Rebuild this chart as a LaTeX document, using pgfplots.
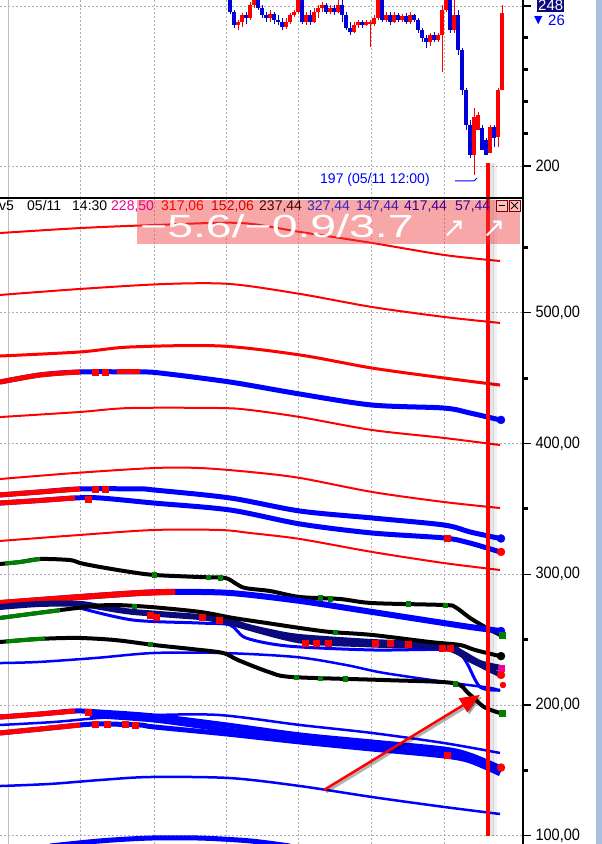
\documentclass[border=0pt]{standalone}
\usepackage{fontspec}
\setmainfont{Liberation Sans}
\newfontfamily\dejavu{DejaVu Sans}
\usepackage{pgfplots}
\usepackage{pgfplotstable}
\pgfplotsset{compat=1.18}
\usetikzlibrary{arrows.meta}
\definecolor{navy}{RGB}{10,10,125}
\definecolor{dgreen}{RGB}{0,128,0}
\definecolor{gridg}{RGB}{175,175,175}
\definecolor{pinkbase}{RGB}{238,60,60}
\definecolor{rightband}{RGB}{170,190,222}
\definecolor{hblue}{RGB}{50,40,200}
\definecolor{hpurple}{RGB}{64,0,144}
\newcommand{\hdr}{\fontsize{14}{14}\selectfont}
\newcommand{\tl}[1]{\scalebox{0.88}[1]{#1}}

% candles: x, wick low, body low, body high, wick high (price units)
\pgfplotstableread{
x wl bl bh wh
238 242.5 244.1 245.0 245.6
242 243.4 245.0 247.2 247.8
250 245.6 246.3 250.3 251.3
254 249.4 250.3 254.4 256.6
270 245.0 246.3 247.5 248.8
286 242.8 243.4 245.0 246.3
290 244.4 245.0 247.2 247.8
294 246.6 247.2 248.1 248.8
298 247.5 248.1 253.4 255.0
306 244.1 245.0 247.2 248.1
314 244.7 245.0 248.1 249.4
318 246.3 248.1 249.4 250.3
322 248.1 249.4 250.3 251.3
330 247.5 248.1 249.4 250.3
338 247.8 248.1 250.3 251.9
354 241.6 241.9 244.1 245.0
358 243.1 244.1 245.0 245.6
366 243.8 244.1 245.0 245.6
370 237.2 244.4 245.0 245.6
374 243.8 244.4 246.3 247.2
378 245.6 246.3 251.9 253.4
386 245.0 245.6 247.2 248.1
394 244.7 245.0 247.2 248.1
402 245.0 245.6 246.9 247.5
410 244.4 245.0 247.2 248.1
430 237.5 238.8 240.9 241.6
438 238.8 239.4 240.9 241.6
442 229.4 240.9 248.8 250.3
446 248.1 248.8 251.9 255.0
454 241.6 242.5 247.2 251.9
474 197.2 203.4 215.3 218.1
478 211.3 211.3 215.9 216.9
490 204.1 204.1 212.2 212.8
498 205.9 209.1 223.8 224.4
502 223.8 223.8 247.8 250.3
}\redc
\pgfplotstableread{
x wl bl bh wh
230 247.5 248.1 255.0 256.6
234 243.1 244.1 248.1 248.8
246 244.4 246.3 247.2 248.1
258 248.8 249.4 254.4 255.6
262 246.3 247.2 249.4 250.3
266 245.0 246.3 247.2 248.1
274 244.4 245.6 247.5 248.1
278 244.1 245.0 245.6 247.2
282 242.5 243.4 245.0 246.3
302 244.4 245.0 253.4 255.0
310 244.1 245.0 247.2 248.8
326 247.5 248.1 250.3 250.9
334 247.2 248.1 249.4 250.3
342 245.0 247.2 250.3 251.9
346 242.5 243.1 247.2 248.1
350 240.9 241.9 243.1 245.0
362 243.1 244.1 245.0 245.6
382 245.0 245.6 251.9 252.8
390 244.1 245.0 247.2 248.1
398 245.0 245.6 247.2 247.8
406 244.4 245.0 246.9 247.8
414 245.0 245.6 247.2 247.5
418 241.6 242.5 245.6 246.3
422 238.8 240.0 242.5 243.1
426 236.9 238.8 240.0 240.9
434 238.8 239.4 240.9 241.9
450 241.6 242.5 251.9 255.0
458 234.7 236.3 247.2 248.8
462 222.2 223.8 236.3 236.9
466 211.3 212.8 223.8 224.4
470 202.5 203.4 212.8 214.4
482 205.0 205.0 211.9 212.8
486 203.4 203.4 208.1 208.8
494 205.9 208.8 212.2 212.8
}\bluec

\begin{document}
\begin{tikzpicture}
\useasboundingbox (0,0) rectangle (602pt,844pt);
\pgfplotsset{
  common/.style={
    scale only axis, width=523pt, xmin=0, xmax=523,
    axis line style={draw=none},
    xtick={80.6,154.7,226.5,298.7,371.6,444.2}, xticklabels={},
    xtick style={draw=none}, xmajorgrids, ymajorgrids,
    extra x ticks={8.4}, extra x tick labels={},
    extra x tick style={grid style={solid, gridg!80, line width=1pt}},
    grid style={gridg, dash pattern=on 2pt off 2pt, line width=0.9pt},
    ytick pos=right, yticklabel pos=right, tick align=outside,
    major tick length=8pt,
    ytick style={black, line width=1pt},
    yticklabel style={font=\fontsize{16.5}{16.5}\selectfont, black, xshift=1pt},
  },
  thin/.style={line width=2pt, smooth},
  mid/.style={line width=3pt, smooth},
  thick/.style={line width=5pt, smooth},
}
% ---------------- top (price) panel ----------------
\begin{axis}[common, at={(0pt,646pt)}, anchor=south west, height=198pt,
  ymin=190.0, ymax=251.875,
  ytick={200,250}, yticklabels={\tl{200},{}}]
\addplot[forget plot, draw=none, mark=none, error bars/.cd, y dir=plus, y explicit, error mark=none,
  error bar style={draw=red, line width=1pt}] table[x=x, y=wl, y error expr=\thisrow{wh}-\thisrow{wl}] {\redc};
\addplot[forget plot, draw=none, mark=none, error bars/.cd, y dir=plus, y explicit, error mark=none,
  error bar style={draw=blue!85!black, line width=1pt}] table[x=x, y=wl, y error expr=\thisrow{wh}-\thisrow{wl}] {\bluec};
\addplot[forget plot, draw=none, mark=none, error bars/.cd, y dir=plus, y explicit, error mark=none,
  error bar style={draw=red, line width=3.4pt}] table[x=x, y=bl, y error expr=\thisrow{bh}-\thisrow{bl}] {\redc};
\addplot[forget plot, draw=none, mark=none, error bars/.cd, y dir=plus, y explicit, error mark=none,
  error bar style={draw=blue!85!black, line width=3.4pt}] table[x=x, y=bl, y error expr=\thisrow{bh}-\thisrow{bl}] {\bluec};
% cursor line
\addplot[black, opacity=0.10, line width=4pt] coordinates {(492,200.9) (492,190)};
\addplot[black, opacity=0.06, line width=4pt] coordinates {(495,200.9) (495,190)};
\addplot[red, line width=3.5pt] coordinates {(488,200.9) (488,190)};
\end{axis}

% ---------------- lower (envelope) panel ----------------
\begin{axis}[common, at={(0pt,0pt)}, anchor=south west, height=646pt,
  ymin=93.65, ymax=587.9,
  ytick={100,200,300,400,500},
  yticklabels={\tl{100,00},\tl{200,00},\tl{300,00},\tl{400,00},\tl{500,00}}]
% thin red envelopes
\addplot[red, thin] coordinates {(0,561.1)(80,564.9)(154,567.2)(240,568.8)(300,561.9)(372,553.5)(444,544.3)(500,539.7)};
\addplot[red, thin] coordinates {(0,513.7)(80,518.3)(165,522.1)(230,522.1)(300,514.5)(372,504.5)(444,496.9)(500,492.3)};
\addplot[red, mid] coordinates {(0,467.0)(80,470.1)(130,473.9)(220,474.7)(300,467.8)(372,457.8)(444,450.2)(500,444.8)};
\addplot[red, thin] coordinates {(0,420.3)(80,424.2)(130,427.2)(220,427.2)(250,425.7)(300,420.3)(372,410.4)(444,404.3)(500,398.9)};
\addplot[red, thin] coordinates {(0,372.9)(75,377.5)(154,381.3)(200,381.3)(250,378.3)(300,373.7)(372,363.0)(444,355.3)(500,350.7)};
\addplot[red, thin] coordinates {(0,325.5)(80,330.1)(154,333.9)(220,333.9)(250,331.6)(300,327.0)(372,317.1)(444,308.6)(500,303.3)};
% thin blue lines
\addplot[blue, line width=2.5pt, smooth] coordinates {(0,232.1)(38,232.9)(96,236.0)(154,239.8)(223,239.8)(296,236.7)(346,230.6)(384,224.5)(453,216.8)(491,213.0)(500,210.7)};
\addplot[blue, line width=2.5pt, smooth] coordinates {(0,184.7)(54,187.0)(100,190.1)(154,192.3)(220,192.3)(300,184.7)(372,178.6)(444,170.9)(500,163.3)};
\addplot[blue, line width=2.5pt, smooth] coordinates {(0,138.0)(50,139.6)(100,142.6)(150,144.9)(230,144.1)(300,138.0)(372,129.6)(444,122.0)(500,116.6)};
% thick blue (red start)
\addplot[blue, thick] coordinates {(0,447.1)(40,452.5)(80,454.8)(140,454.8)(160,454.0)(230,447.1)(300,437.9)(372,429.5)(444,427.2)(470,423.4)(500,418.1)};
\addplot[red, thick] coordinates {(0,447.1)(40,452.5)(80,454.8)};
\addplot[red, thick] coordinates {(117,454.8)(140,454.8)};
\addplot[blue, thick] coordinates {(0,360.7)(40,363.0)(80,365.3)(140,365.3)(154,364.5)(230,358.4)(300,348.4)(372,343.1)(444,337.7)(470,332.4)(500,327.4)};
\addplot[red, thick] coordinates {(0,360.7)(40,363.0)(80,365.3)};
\addplot[blue, thick] coordinates {(0,354.5)(40,356.5)(75,358.4)(100,358.4)(154,354.5)(230,349.2)(300,338.5)(372,331.6)(444,327.8)(470,323.9)(500,317.1)};
\addplot[red, thick] coordinates {(0,354.5)(40,356.5)(75,358.4)};
% black K1
\addplot[black, line width=4pt, smooth] coordinates {(0,307.9)(20,309.4)(40,311.7)(70,310.9)(80,308.6)(100,305.6)(130,301.8)(154,299.5)(200,297.9)(225,297.2)(235,293.3)(245,289.5)(270,287.2)(300,282.6)(340,281.1)(372,278.0)(444,276.5)(455,275.0)(470,266.6)(485,259.7)(500,253.6)};
\addplot[dgreen, line width=4pt, smooth] coordinates {(5,308.3)(20,309.4)(40,311.7)};
% B4
\addplot[blue, line width=6pt, smooth] coordinates {(0,278.0)(40,280.3)(80,282.6)(140,285.7)(175,286.5)(230,285.7)(300,279.6)(372,271.2)(444,262.7)(470,259.7)(500,256.6)};
\addplot[red, line width=6pt, smooth] coordinates {(0,278.0)(40,280.3)(80,282.6)(140,285.7)(175,286.5)};
% cluster
\addplot[blue, line width=3pt, smooth] coordinates {(80,274.2)(133,265.0)(200,262.7)(230,261.2)(246,251.3)(288,245.1)(372,242.1)(450,242.1)(465,234.4)(480,213.8)(500,211.5)};
\addplot[navy, line width=5pt, smooth] coordinates {(200,267.3)(230,262.7)(300,249.0)(372,245.9)(444,243.6)(470,234.4)(490,226.8)(500,223.0)};
\addplot[navy, line width=6pt, smooth] coordinates {(0,275.0)(40,277.3)(80,277.3)(100,275.0)(133,271.2)(200,267.3)(227,265.0)(245,260.4)(270,255.9)(300,252.0)(372,248.2)(444,245.9)(460,240.6)(480,232.1)(500,228.5)};
\addplot[black, line width=4pt, smooth] coordinates {(0,266.6)(38,270.4)(77,274.2)(110,276.5)(150,275.0)(200,271.2)(233,266.6)(267,262.7)(300,258.9)(330,255.9)(372,253.6)(430,248.2)(460,245.9)(475,242.1)(500,237.4)};
\addplot[dgreen, line width=4pt, smooth] coordinates {(0,266.6)(38,270.4)(60,272.4)};
\addplot[black, line width=4pt, smooth] coordinates {(0,248.2)(38,250.5)(77,251.3)(115,249.7)(154,245.9)(192,242.8)(223,239.8)(238,234.4)(269,225.2)(292,221.4)(384,219.1)(453,216.8)(468,209.2)(484,198.5)(500,193.9)};
\addplot[dgreen, line width=4pt, smooth] coordinates {(6,248.6)(38,250.5)(45,250.7)};
% lower bundle
\addplot[blue, thick] coordinates {(90,192.0)(154,188.5)(227,181.0)(300,174.0)(372,168.5)(444,163.0)(470,158.5)(500,150.0)};
\addplot[blue, thick] coordinates {(0,190.8)(40,193.1)(75,195.4)(100,194.6)(154,191.6)(227,184.7)(300,177.1)(372,171.7)(444,166.3)(470,161.7)(500,152.1)};
\addplot[red, thick] coordinates {(0,190.8)(40,193.1)(75,195.4)};
\addplot[blue, thick] coordinates {(0,178.6)(40,181.6)(80,184.7)(100,185.5)(140,184.7)(154,183.2)(227,177.8)(300,171.7)(372,166.3)(444,161.0)(470,157.2)(500,147.4)};
\addplot[red, thick] coordinates {(0,178.6)(40,181.6)(80,184.7)};
\addplot[blue, thick] coordinates {(50,92.1)(100,96.0)(150,98.2)(200,98.2)(250,96.0)(290,92.1)};
% colour bits
\addplot[only marks, mark=square*, mark size=3pt, red] coordinates {(95,454.8)(105,454.8)(95,365.3)(105,365.3)(88,357.5)(447,327.8)
 (150,268.9)(156,266.8)(202,267.3)(219,264.5)(305,247.5)(316,247.0)(328,247.0)(375,247.4)(390,247.0)(408,246.5)(442,243.6)(450,243.6)
 (88,194.5)(95,185.3)(107,185.5)(125,185.0)(135,184.9)(447,161.7)};
\addplot[only marks, mark=square*, mark size=2.3pt, dgreen] coordinates {(154,299.5)(208,297.8)(220,297.4)(320,281.9)(330,281.5)(408,277.3)(445,276.5)
 (134,275.5)(335,255.7)(150,246.5)(296,221.4)(320,220.6)(345,220.0)(455,216.5)};
% last-value dots
\addplot[only marks, mark=*, mark size=4pt, blue] coordinates {(501,418.1)(501,327.4)(501,256.6)};
\addplot[only marks, mark=*, mark size=4pt, red] coordinates {(501,317.1)(501,223.0)(501,152.1)};
\addplot[only marks, mark=*, mark size=4pt, black] coordinates {(501,237.4)};
\addplot[only marks, mark=square*, mark size=3pt, magenta] coordinates {(501,228.5)};
\addplot[only marks, mark=*, mark size=3pt, red] coordinates {(503,215.3)};
\addplot[only marks, mark=square*, mark size=3pt, dgreen] coordinates {(502,193.9)(502,253.6)};
% arrow
\addplot[black, opacity=0.3, line width=3pt, -{Triangle[length=20pt,width=16pt]}] coordinates {(326,133.5) (482,206.2)};
\addplot[red, line width=2.5pt, -{Triangle[length=20pt,width=16pt]}] coordinates {(324,135.0) (480,207.7)};
% cursor line
\addplot[black, opacity=0.10, line width=4pt] coordinates {(492,587.9) (492,99.8)};
\addplot[black, opacity=0.06, line width=4pt] coordinates {(495,587.9) (495,99.8)};
\addplot[red, line width=3.5pt] coordinates {(488,587.9) (488,99.8)};
\end{axis}

% ---------------- decorations in pixel coordinates ----------------
\begin{scope}[x=1pt, y=-1pt, yshift=844pt]
\fill[rightband] (596,0) rectangle (602,844);
\draw[black, line width=1.5pt] (523,0) -- (523,844);
\foreach \yy in {38,70,102,134,247.6,378.3,509.0,639.7,770.4}
  \draw[black, line width=3pt] (523,\yy) -- (528,\yy);
\foreach \yy in {6,166,312.9,443.6,574.3,705,835.7}
  \draw[black, line width=1.2pt] (523,\yy) -- (531,\yy);
\draw[black, line width=2.5pt] (0,198) -- (523,198);
\fill[pinkbase, fill opacity=0.45] (137,200) rectangle (520,244);
\node[anchor=base west, inner sep=0, font=\hdr] at (-1,211) {v5};
\node[anchor=base west, inner sep=0, font=\hdr] at (27,211) {05/11};
\node[anchor=base west, inner sep=0, font=\hdr] at (72,211) {14:30};
\node[anchor=base west, inner sep=0, font=\hdr, magenta] at (111,211) {228,50};
\node[anchor=base west, inner sep=0, font=\hdr, red] at (161,211) {317,06};
\node[anchor=base west, inner sep=0, font=\hdr, red!85!black] at (211,211) {152,06};
\node[anchor=base west, inner sep=0, font=\hdr, black!70!red] at (259,211) {237,44};
\node[anchor=base west, inner sep=0, font=\hdr, hblue] at (307,211) {327,44};
\node[anchor=base west, inner sep=0, font=\hdr, hblue!70!hpurple] at (356,211) {147,44};
\node[anchor=base west, inner sep=0, font=\hdr, hpurple] at (404,211) {417,44};
\node[anchor=base west, inner sep=0, font=\hdr, hpurple] at (455,211) {57,44};
\node[anchor=base west, inner sep=0, white] at (140,238) {\scalebox{1.45}[1]{\fontsize{32}{32}\selectfont −5.6/−0.9/3.7}};
\node[anchor=base west, inner sep=0, white] at (442,238) {\dejavu\fontsize{28}{28}\selectfont ↗};
\node[anchor=base west, inner sep=0, white] at (482,238) {\dejavu\fontsize{28}{28}\selectfont ↗};
\draw[fill=red!25, draw=red!50!black, line width=0.6pt] (496,200) rectangle (507,211);
\draw[black, line width=1pt] (498.5,205.5) -- (504.5,205.5);
\draw[fill=red!25, draw=red!50!black, line width=0.6pt] (509,200) rectangle (520,211);
\draw[black, line width=0.9pt] (511,202) -- (518,209) (511,209) -- (518,202);
% top panel labels
\fill[navy] (537,-1) rectangle (564,12);
\node[anchor=base west, inner sep=0, white, font=\fontsize{15}{15}\selectfont] at (538,11) {248};
\node[anchor=base west, inner sep=0, blue, font=\dejavu\fontsize{11}{11}\selectfont] at (534,24) {▼};
\node[anchor=base west, inner sep=0, blue, font=\fontsize{15}{15}\selectfont] at (548,26) {26};
\node[anchor=base west, inner sep=0, blue, font=\hdr] at (320,184) {197 (05/11 12:00)};
\draw[blue, line width=1pt] (455,181) -- (474,181) -- (477,178);
\end{scope}
\end{tikzpicture}
\end{document}
